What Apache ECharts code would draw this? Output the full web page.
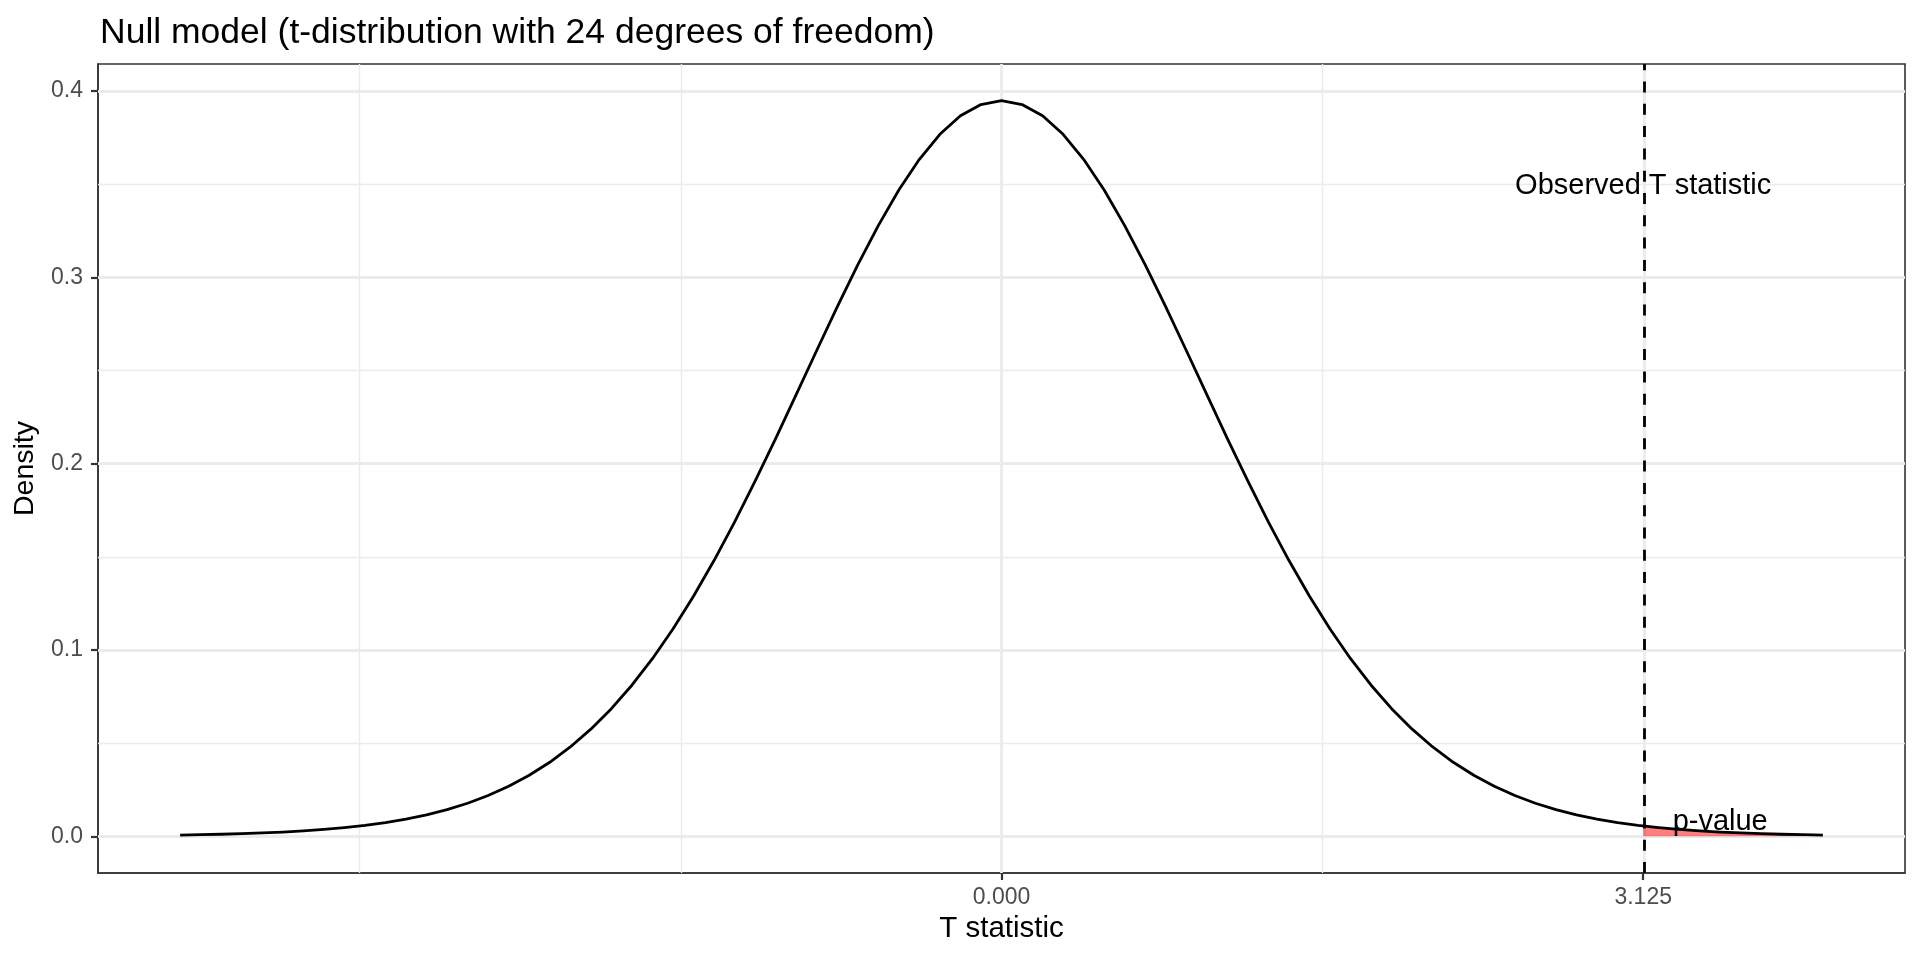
<!DOCTYPE html>
<html>
<head>
<meta charset="utf-8">
<script src="https://cdn.jsdelivr.net/npm/echarts@6/dist/echarts.min.js"></script>
<style>
html,body{margin:0;padding:0;background:#fff;}
#chart{width:1920px;height:960px;}
</style>
</head>
<body>
<div id="chart"></div>
<script>
// ---- data ----
const titleText = 'Null model (t-distribution with 24 degrees of freedom)';
const xAxisTitle = 'T statistic';
const yAxisTitle = 'Density';

const tValues = [-4.0,-3.9,-3.8,-3.7,-3.6,-3.5,-3.4,-3.3,-3.2,-3.1,-3.0,-2.9,-2.8,-2.7,-2.6,-2.5,-2.4,-2.3,-2.2,-2.1,-2.0,-1.9,-1.8,-1.7,-1.6,-1.5,-1.4,-1.3,-1.2,-1.1,-1.0,-0.9,-0.8,-0.7,-0.6,-0.5,-0.4,-0.3,-0.2,-0.1,0.0,0.1,0.2,0.3,0.4,0.5,0.6,0.7,0.8,0.9,1.0,1.1,1.2,1.3,1.4,1.5,1.6,1.7,1.8,1.9,2.0,2.1,2.2,2.3,2.4,2.5,2.6,2.7,2.8,2.9,3.0,3.1,3.2,3.3,3.4,3.5,3.6,3.7,3.8,3.9,4.0];
const densityValues = [0.00067,0.00085,0.00109,0.00140,0.00179,0.00228,0.00290,0.00367,0.00465,0.00586,0.00737,0.00924,0.01153,0.01434,0.01775,0.02188,0.02683,0.03274,0.03973,0.04793,0.05750,0.06850,0.08109,0.09531,0.11122,0.12880,0.14800,0.16866,0.19058,0.21348,0.23702,0.26073,0.28414,0.30667,0.32776,0.34684,0.36334,0.37676,0.38668,0.39276,0.39481,0.39276,0.38668,0.37676,0.36334,0.34684,0.32776,0.30667,0.28414,0.26073,0.23702,0.21348,0.19058,0.16866,0.14800,0.12880,0.11122,0.09531,0.08109,0.06850,0.05750,0.04793,0.03973,0.03274,0.02683,0.02188,0.01775,0.01434,0.01153,0.00924,0.00737,0.00586,0.00465,0.00367,0.00290,0.00228,0.00179,0.00140,0.00109,0.00085,0.00067];

const tailT = [3.125,3.2,3.3,3.4,3.5,3.6,3.7,3.8,3.9,4.0];
const tailDensity = [0.00554,0.00465,0.00367,0.00290,0.00228,0.00179,0.00140,0.00109,0.00085,0.00067];

const observedT = 3.125;
const xTickValues = [0, 3.125];
const xTickLabels = ['0.000', '3.125'];
const xMinorGrid = [-3.125, -1.5625, 1.5625];
const yTickValues = [0, 0.1, 0.2, 0.3, 0.4];
const yTickLabels = ['0.0', '0.1', '0.2', '0.3', '0.4'];
const yMinorGrid = [0.05, 0.15, 0.25, 0.35];

const annotations = [
  {text: 'Observed T statistic', x: 3.125, y: 0.35},
  {text: 'p-value', x: 3.5, y: 0.0085}
];

const xRange = [-4.4, 4.4];
const yRange = [-0.0197, 0.4145];

// ---- build chart ----
const FONT = 'Liberation Sans, Arial, Helvetica, sans-serif';
const GRID_COLOR = '#EBEBEB';

const curveData = tValues.map((t, i) => [t, densityValues[i]]);
const tailData = tailT.map((t, i) => [t, tailDensity[i]]);

function gridLines(vals, axis, width) {
  return vals.map(v => ({[axis]: v, lineStyle: {color: GRID_COLOR, width: width, type: 'solid'}}));
}

const chart = echarts.init(document.getElementById('chart'), null, {renderer: 'canvas'});
chart.setOption({
  animation: false,
  backgroundColor: '#ffffff',
  textStyle: {fontFamily: FONT},
  title: {
    text: titleText,
    left: 95,
    top: 10,
    textStyle: {fontFamily: FONT, fontSize: 35.5, fontWeight: 'normal', color: '#000000'}
  },
  grid: {
    left: 98, right: 15, top: 64, bottom: 87,
    show: true, borderColor: '#333333', borderWidth: 1.6, backgroundColor: '#ffffff'
  },
  xAxis: {
    type: 'value',
    min: xRange[0], max: xRange[1],
    name: xAxisTitle,
    nameLocation: 'middle',
    nameGap: 41,
    nameTextStyle: {fontFamily: FONT, fontSize: 29.5, color: '#000000'},
    axisLine: {show: true, onZero: false, lineStyle: {color: '#333333', width: 1.6}},
    axisTick: {show: true, length: 7, customValues: xTickValues, lineStyle: {color: '#333333', width: 2.2}},
    axisLabel: {
      show: true, margin: 13, customValues: xTickValues,
      fontFamily: FONT, fontSize: 23, color: '#4D4D4D',
      formatter: v => { const i = xTickValues.indexOf(v); return i >= 0 ? xTickLabels[i] : ''; }
    },
    splitLine: {show: false}
  },
  yAxis: {
    type: 'value',
    min: yRange[0], max: yRange[1],
    name: yAxisTitle,
    nameLocation: 'middle',
    nameRotate: 90,
    nameGap: 58,
    nameTextStyle: {fontFamily: FONT, fontSize: 28.5, color: '#000000'},
    axisLine: {show: true, onZero: false, lineStyle: {color: '#333333', width: 1.6}},
    axisTick: {show: true, length: 7, customValues: yTickValues, lineStyle: {color: '#333333', width: 2.2}},
    axisLabel: {
      show: true, margin: 15, customValues: yTickValues,
      fontFamily: FONT, fontSize: 23, color: '#4D4D4D',
      formatter: v => { const i = yTickValues.findIndex(u => Math.abs(u - v) < 1e-9); return i >= 0 ? yTickLabels[i] : ''; }
    },
    splitLine: {show: false}
  },
  series: [
    {
      name: 'grid',
      type: 'line',
      data: [],
      z: 1,
      silent: true,
      markLine: {
        silent: true, symbol: 'none', label: {show: false}, animation: false, z: 1,
        data: [].concat(
          gridLines(yMinorGrid, 'yAxis', 1.4),
          gridLines(xMinorGrid, 'xAxis', 1.4),
          gridLines(yTickValues, 'yAxis', 2.8),
          gridLines(xTickValues, 'xAxis', 2.8)
        )
      }
    },
    {
      name: 'p-value area',
      type: 'line',
      data: tailData,
      z: 2,
      silent: true,
      showSymbol: false,
      symbol: 'none',
      lineStyle: {width: 0, opacity: 0},
      areaStyle: {color: '#FF0000', opacity: 0.5, origin: 0}
    },
    {
      name: 'density',
      type: 'line',
      data: curveData,
      z: 3,
      silent: true,
      showSymbol: false,
      symbol: 'none',
      lineStyle: {color: '#000000', width: 2.8, cap: 'butt', join: 'round'}
    },
    {
      name: 'observed',
      type: 'line',
      data: [],
      z: 4,
      silent: true,
      markLine: {
        silent: true, symbol: 'none', label: {show: false}, animation: false, z: 4,
        data: [{xAxis: observedT, lineStyle: {color: '#000000', width: 2.8, type: [11, 11.3]}}]
      }
    },
    {
      name: 'labels',
      type: 'scatter',
      z: 5,
      silent: true,
      symbolSize: 0,
      itemStyle: {color: '#000000', opacity: 1},
      data: annotations.map(a => ({value: [a.x, a.y], label: {formatter: a.text}})),
      label: {
        show: true, position: 'inside', offset: [0, 2], opacity: 1,
        fontFamily: FONT, fontSize: 29, color: '#000000',
        textBorderWidth: 0, textBorderColor: 'transparent',
        align: 'center', verticalAlign: 'middle'
      }
    }
  ]
});
</script>
</body>
</html>
